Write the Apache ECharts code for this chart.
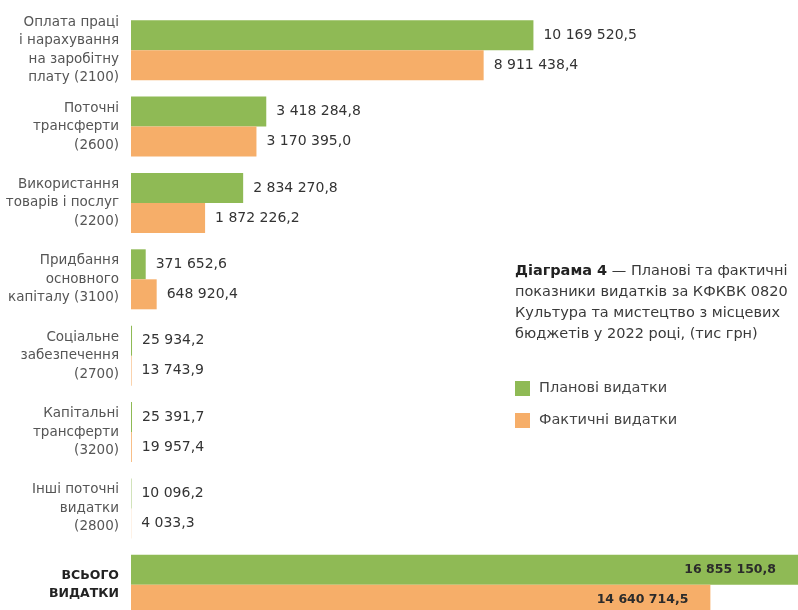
<!DOCTYPE html>
<html>
<head>
<meta charset="utf-8">
<script src="https://cdn.jsdelivr.net/npm/echarts@6/dist/echarts.min.js"></script>
<style>
html,body{margin:0;padding:0;background:#fff;}
#c{width:798px;height:610px;}
</style>
</head>
<body>
<div id="c"></div>
<script>
var categories = [
  'Оплата праці\nі нарахування\nна заробітну\nплату (2100)',
  'Поточні\nтрансферти\n(2600)',
  'Використання\nтоварів і послуг\n(2200)',
  'Придбання\nосновного\nкапіталу (3100)',
  'Соціальне\nзабезпечення\n(2700)',
  'Капітальні\nтрансферти\n(3200)',
  'Інші поточні\nвидатки\n(2800)',
  'ВСЬОГО\nВИДАТКИ'
];
var planned = [10169520.5, 3418284.8, 2834270.8, 371652.6, 25934.2, 25391.7, 10096.2, 16855150.8];
var actual  = [8911438.4, 3170395.0, 1872226.2, 648920.4, 13743.9, 19957.4, 4033.3, 14640714.5];
var seriesNames = ['Планові видатки', 'Фактичні видатки'];
var titleLines = ['Діаграма 4', ' — Планові та фактичні', 'показники видатків за КФКВК 0820', 'Культура та мистецтво з місцевих', 'бюджетів у 2022 році, (тис грн)'];

var FONT = 'DejaVu Sans';
function fmt(v) {
  var s = v.toFixed(1).split('.');
  return s[0].replace(/\B(?=(\d{3})+(?!\d))/g, ' ') + ',' + s[1];
}
var totalIdx = categories.length - 1;
function buildData(arr) {
  return arr.map(function (v, i) {
    if (i === totalIdx) {
      return { value: v, label: { position: 'insideRight', distance: 22, fontWeight: 'bold', fontSize: 12.5, color: '#2b2b2b' } };
    }
    return v;
  });
}

var chart = echarts.init(document.getElementById('c'), null, { renderer: 'canvas' });
chart.setOption({
  backgroundColor: '#ffffff',
  animation: false,
  textStyle: { fontFamily: FONT },
  title: {
    left: 510, top: 256,
    text: '{b|' + titleLines[0] + '}' + titleLines[1] + '\n' + titleLines[2] + '\n' + titleLines[3] + '\n' + titleLines[4],
    textStyle: {
      fontFamily: FONT, fontSize: 14.5, fontWeight: 'normal', color: '#3a3a3a', lineHeight: 21,
      rich: { b: { fontFamily: FONT, fontSize: 14.5, fontWeight: 'bold', color: '#222', lineHeight: 21 } }
    }
  },
  legend: {
    orient: 'vertical', left: 510, top: 376,
    itemWidth: 15, itemHeight: 15, itemGap: 17, icon: 'rect',
    data: seriesNames,
    textStyle: { fontFamily: FONT, fontSize: 14.5, color: '#444', padding: [0, 0, 0, 4] }
  },
  grid: { left: 131, right: 0, top: 12, height: 611, outerBoundsMode: 'none', containLabel: false },
  xAxis: {
    type: 'value', min: 0, max: planned[totalIdx], show: false
  },
  yAxis: {
    type: 'category', inverse: true, data: categories,
    axisLine: { show: false }, axisTick: { show: false }, splitLine: { show: false },
    axisLabel: {
      margin: 12, align: 'right', fontFamily: FONT, fontSize: 13.5, color: '#555', lineHeight: 18.5,
      formatter: function (v, i) {
        if (i === totalIdx) return v.split('\n').map(function (s) { return '{t|' + s + '}'; }).join('\n');
        return v;
      },
      rich: { t: { fontFamily: FONT, fontSize: 12.5, fontWeight: 'bold', color: '#222', lineHeight: 18.5 } }
    }
  },
  series: [
    {
      name: seriesNames[0], type: 'bar', data: buildData(planned),
      barWidth: 30, barGap: '0%',
      itemStyle: { color: '#8fba55' },
      label: { show: true, position: 'right', distance: 10, fontFamily: FONT, fontSize: 14, color: '#333',
        formatter: function (p) { return fmt(p.value); } }
    },
    {
      name: seriesNames[1], type: 'bar', data: buildData(actual),
      barWidth: 30, barGap: '0%',
      itemStyle: { color: '#f6ae69' },
      label: { show: true, position: 'right', distance: 10, fontFamily: FONT, fontSize: 14, color: '#333',
        formatter: function (p) { return fmt(p.value); } }
    }
  ]
});
</script>
</body>
</html>
